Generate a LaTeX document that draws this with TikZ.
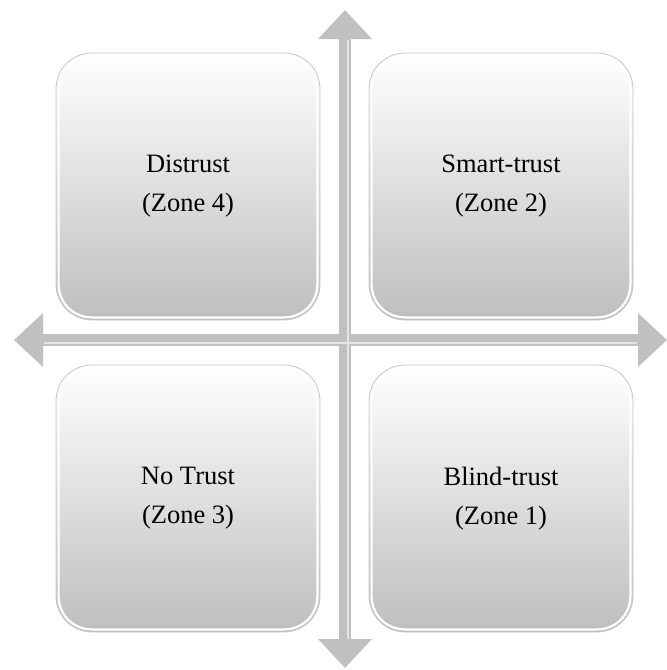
\documentclass[tikz,border=0pt]{standalone}
\usepackage{fontspec}
\setmainfont{Liberation Serif}
\usetikzlibrary{arrows.meta,calc}
\definecolor{axisgray}{RGB}{192,192,192}
\definecolor{axislight}{RGB}{225,228,232}
\definecolor{boxbottom}{RGB}{190,190,190}
\definecolor{boxedge}{RGB}{200,200,200}
\tikzset{
  zone/.style={rounded corners=36pt, minimum width=264pt, minimum height=267pt,
    top color=white, bottom color=boxbottom, draw=boxedge, line width=0.8pt,
    align=center, font=\fontsize{26.5}{39}\selectfont, inner sep=0pt},
  rim/.style={draw=white, line width=2.2pt, rounded corners=33pt},
  axisline/.style={draw=axisgray, line width=12pt,
    {Triangle[length=29pt,width=52pt]}-{Triangle[length=29pt,width=52pt]}},
  axishl/.style={draw=axislight, line width=1.6pt}
}
\begin{document}
\begin{tikzpicture}[x=1pt,y=-1pt]
\useasboundingbox (0,0) rectangle (667,670);
% axes
\coordinate (L) at (14,340);
\coordinate (R) at (667,340);
\coordinate (T) at (345,10);
\coordinate (B) at (345,668);
\draw[axisline] (L) -- (R);
\draw[axisline] (T) -- (B);
\coordinate (Lb) at (44,343);
\coordinate (Rb) at (637,343);
\coordinate (Tb) at (348,40);
\coordinate (Bb) at (348,639);
\draw[axishl] (Lb) -- (Rb);
\draw[axishl] (Tb) -- (Bb);
% zones
\node[zone] (z4) at (188,186.5) {Distrust\\(Zone 4)};
\node[zone] (z2) at (501,186.5) {Smart-trust\\(Zone 2)};
\node[zone] (z3) at (188,498.5) {No Trust\\(Zone 3)};
\node[zone] (z1) at (501,498.5) {Blind-trust\\(Zone 1)};
\foreach \z in {z1,z2,z3,z4}{
  \draw[rim] ([shift={(3pt,3pt)}]\z.south west) rectangle ([shift={(-3pt,-3pt)}]\z.north east);
}
\end{tikzpicture}
\end{document}
